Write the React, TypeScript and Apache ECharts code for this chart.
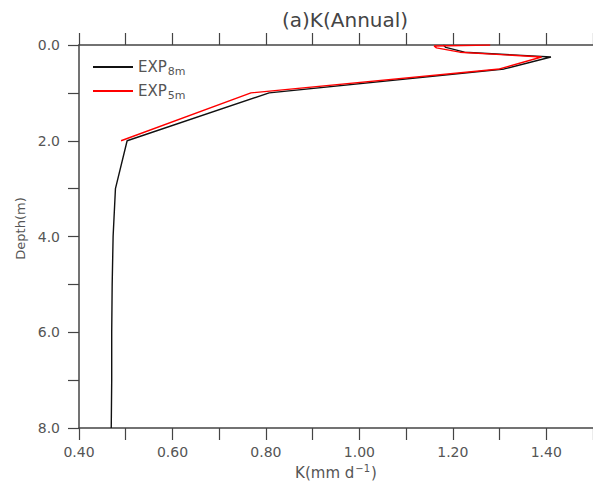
import React, { useEffect, useRef } from "react";
import * as echarts from "echarts";

const depthBlack = [0, 0.05, 0.15, 0.25, 0.5, 1, 2, 3, 4, 5, 6, 7, 8];
const kBlack = [1.18, 1.185, 1.225, 1.41, 1.31, 0.807, 0.503, 0.478, 0.473, 0.471, 0.47, 0.47, 0.469];
const depthRed = [0, 0.02, 0.06, 0.15, 0.25, 0.5, 1, 2];
const kRed = [1.28, 1.16, 1.165, 1.215, 1.39, 1.3, 0.768, 0.49];
const seriesNames = ["EXP8m", "EXP5m"];
const legendMain = ["EXP", "EXP"];
const legendSub = ["8m", "5m"];

const FONT = "DejaVu Sans";
const GRAY = "#555";
const AXIS = "#444";

export default function App() {
  const ref = useRef<HTMLDivElement>(null);
  useEffect(() => {
    if (!ref.current) return;
    const chart = echarts.init(ref.current, null, { renderer: "svg" });
    const blackData = kBlack.map((k, i) => [k, depthBlack[i]]);
    const redData = kRed.map((k, i) => [k, depthRed[i]]);
    const axisCommon = {
      type: "value" as const,
      min: 0.4,
      max: 1.5,
      interval: 0.1,
      splitLine: { show: false },
      axisLine: { onZero: false, lineStyle: { color: AXIS, width: 1.5 } },
      axisTick: { length: 12, lineStyle: { color: AXIS, width: 1.2 } },
    };
    chart.setOption({
      animation: false,
      backgroundColor: "#fff",
      title: {
        text: "(a)K(Annual)",
        left: 277,
        top: 5,
        textStyle: { fontFamily: FONT, fontSize: 20, fontWeight: "normal", color: "#444" },
      },
      grid: { left: 79, top: 45, right: 0, bottom: 54, containLabel: false, outerBoundsMode: "none" },
      legend: {
        data: seriesNames,
        orient: "vertical",
        left: 88,
        top: 52,
        itemWidth: 40,
        itemHeight: 2,
        itemGap: 4,
        icon: "rect",
        formatter: (name: string) => {
          const i = seriesNames.indexOf(name);
          return `{a|${legendMain[i]}}{b|${legendSub[i]}}`;
        },
        textStyle: {
          fontFamily: FONT,
          color: GRAY,
          rich: {
            a: { fontFamily: FONT, fontSize: 15, color: GRAY, lineHeight: 18 },
            b: { fontFamily: FONT, fontSize: 11, color: GRAY, padding: [9, 0, 0, 1], lineHeight: 18 },
          },
        },
      },
      xAxis: [
        {
          ...axisCommon,
          position: "bottom",
          name: "{a|K(mm d}{s|−1}{a|)}",
          nameLocation: "middle",
          nameGap: 34,
          nameTextStyle: {
            fontFamily: FONT,
            color: GRAY,
            rich: {
              a: { fontFamily: FONT, fontSize: 15, color: GRAY },
              s: { fontFamily: FONT, fontSize: 10, color: GRAY, padding: [0, 1, 9, 1] },
            },
          },
          axisLabel: {
            margin: 17,
            fontFamily: FONT,
            fontSize: 14,
            color: GRAY,
            formatter: (v: number) => (Math.round(v * 10) % 2 === 0 ? v.toFixed(2) : ""),
          },
        },
        {
          ...axisCommon,
          position: "top",
          axisLabel: { show: false },
        },
      ],
      yAxis: {
        type: "value",
        inverse: true,
        min: 0,
        max: 8,
        interval: 1,
        splitLine: { show: false },
        axisLine: { onZero: false, lineStyle: { color: AXIS, width: 1.5 } },
        axisTick: { length: 11, lineStyle: { color: AXIS, width: 1.2 } },
        name: "Depth(m)",
        nameLocation: "middle",
        nameGap: 52,
        nameTextStyle: { fontFamily: FONT, fontSize: 13, color: GRAY, padding: [0, 0, 0, 16] },
        axisLabel: {
          margin: 19,
          fontFamily: FONT,
          fontSize: 14,
          color: GRAY,
          formatter: (v: number) => (Math.round(v) % 2 === 0 ? v.toFixed(1) : ""),
        },
      },
      series: [
        {
          name: seriesNames[0],
          type: "line",
          data: blackData,
          xAxisIndex: 0,
          showSymbol: false,
          symbol: "none",
          lineStyle: { color: "#111", width: 1.4 },
          itemStyle: { color: "#111" },
          z: 2,
        },
        {
          name: seriesNames[1],
          type: "line",
          data: redData,
          xAxisIndex: 0,
          showSymbol: false,
          symbol: "none",
          lineStyle: { color: "#ff0000", width: 1.4 },
          itemStyle: { color: "#ff0000" },
          z: 3,
        },
      ],
    });
    return () => chart.dispose();
  }, []);
  return (
    <div
      ref={ref}
      style={{ position: "fixed", left: 0, top: 0, width: 593, height: 482 }}
    />
  );
}
